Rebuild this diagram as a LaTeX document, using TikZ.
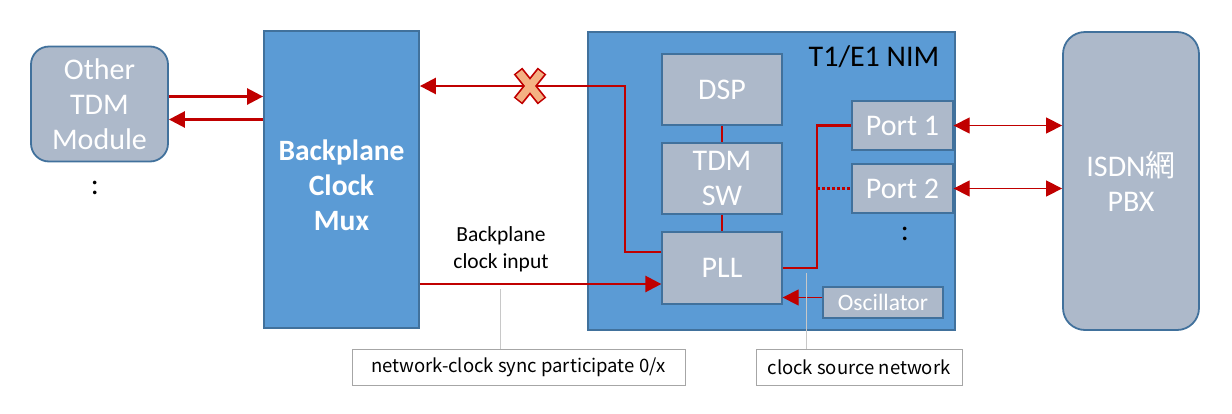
\documentclass[tikz,border=0pt]{standalone}
\usepackage{fontspec}
\setmainfont{Carlito}
\newfontfamily\cjk{Noto Sans CJK JP}
\usetikzlibrary{arrows.meta,calc}
\definecolor{bfill}{HTML}{5B9BD5}
\definecolor{bdraw}{HTML}{41719C}
\definecolor{gfill}{HTML}{ADB9CA}
\definecolor{dred}{HTML}{C00000}
\definecolor{xfill}{HTML}{F4B183}
\definecolor{lgray}{HTML}{C8C8C8}
\definecolor{cdraw}{HTML}{A6A6A6}
\begin{document}
\begin{tikzpicture}[x=1pt,y=-1pt,
  outerbox/.style={draw=bdraw,line width=1.8pt,inner sep=0pt,align=center,text=white},
  graybox/.style={outerbox,fill=gfill},
  bluebox/.style={outerbox,fill=bfill},
  innerbox/.style={draw=bdraw,line width=1.3pt,fill=gfill,inner sep=0pt,align=center,text=white},
  big/.style={font=\fontsize{30}{35}\selectfont},
  redthick/.style={draw=dred,line width=2.6pt},
  redthin/.style={draw=dred,line width=1.3pt},
  tip/.style={-{Triangle[length=16pt,width=16pt]}},
  dtip/.style={{Triangle[length=16pt,width=16pt]}-{Triangle[length=16pt,width=16pt]}},
  callout/.style={draw=cdraw,line width=0.8pt,fill=white,inner sep=0pt,font=\cjk\fontsize{18.5}{20}\selectfont},
  leader/.style={draw=lgray,line width=0.9pt}
]
\useasboundingbox (0,0) rectangle (1232,413);

% left side
\node[graybox,big,rounded corners=18pt,minimum width=137,minimum height=115] (other) at (99.5,104) {Other\\TDM\\Module};
\node[big] (dots1) at (95,188) {:};
\node[bluebox,minimum width=155,minimum height=297] (mux) at (341.5,179.5) {};
\node[text=white,align=center,font=\bfseries\fontsize{29.5}{35}\selectfont] (muxlabel) at (341.5,185) {Backplane\\Clock\\Mux};

\draw[redthick,tip] ([yshift=7.5pt]other.east) -- ([yshift=7.5pt]other.east -| mux.west);
\draw[redthick,tip] ([yshift=-15.5pt]other.east -| mux.west) -- ([yshift=-15.5pt]other.east);

% NIM
\node[bluebox,minimum width=367,minimum height=298] (nim) at (771.5,181) {};
\node[big,text=black] (nimlabel) at (874,57) {T1/E1 NIM};
\node[innerbox,big,minimum width=120,minimum height=71] (dsp) at (722,89.5) {DSP};
\node[innerbox,big,minimum width=120,minimum height=71] (tdm) at (722,178.5) {TDM\\SW};
\node[innerbox,big,minimum width=120,minimum height=72] (pll) at (722,268) {PLL};
\node[innerbox,big,minimum width=101,minimum height=49] (p1) at (902.5,125.5) {Port 1};
\node[innerbox,big,minimum width=101,minimum height=49] (p2) at (902.5,188.5) {Port 2};
\node[big] (dots2) at (905,234) {:};
\node[innerbox,font=\fontsize{23.5}{26}\selectfont,minimum width=120,minimum height=31] (osc) at (883,302.5) {Oscillator};

\draw[redthick] (dsp) -- (tdm);
\draw[redthick] (tdm) -- (pll);

% PLL to ports
\coordinate (bend) at (817,268);
\draw[redthick] (pll.east) -- (bend) |- (p1.west);
\draw[redthick,dash pattern=on 3pt off 2pt] (bend |- p2.west) -- (p2.west);
\draw[redthin,tip] ([yshift=5pt]osc.west) -- ([yshift=5pt]osc.west -| pll.east);

% ISDN
\node[graybox,big,rounded corners=22pt,minimum width=136,minimum height=298] (isdn) at (1131,181) {ISDN{\cjk 網}\\PBX};
\draw[redthin,dtip] (p1.east) -- (p1.east -| isdn.west);
\draw[redthin,dtip] (p2.east) -- (p2.east -| isdn.west);

% backplane paths
\coordinate (up) at (625,86);
\draw[redthick,tip] ([yshift=16pt]pll.west) -| (up) -- (up -| mux.east);
\draw[redthick,tip] ([yshift=-16pt]pll.west -| mux.east) -- ([yshift=-16pt]pll.west);
\node[font=\fontsize{21.5}{27}\selectfont,align=center] (bplabel) at (501,249) {Backplane\\clock input};

% X mark
\node[inner sep=0pt,minimum size=30pt] (xmark) at (530,86) {};
\draw[dred,line width=11pt] ($(xmark)+(-12,-15)$) -- ($(xmark)+(12,15)$) ($(xmark)+(12,-15)$) -- ($(xmark)+(-12,15)$);
\draw[xfill,line width=7.5pt,shorten <=1.6pt,shorten >=1.6pt] ($(xmark)+(-12,-15)$) -- ($(xmark)+(12,15)$);
\draw[xfill,line width=7.5pt,shorten <=1.6pt,shorten >=1.6pt] ($(xmark)+(12,-15)$) -- ($(xmark)+(-12,15)$);

% callouts
\node[callout,minimum width=333,minimum height=36] (c1) at (518.5,367) {network-clock sync participate 0/x};
\node[callout,minimum width=206,minimum height=36] (c2) at (859,367) {clock source network};
\coordinate (l1) at (500,289);
\coordinate (l2) at (806,273);
\draw[leader] (l1) -- (l1 |- c1.north);
\draw[leader] (l2) -- (l2 |- c2.north);
\end{tikzpicture}
\end{document}
